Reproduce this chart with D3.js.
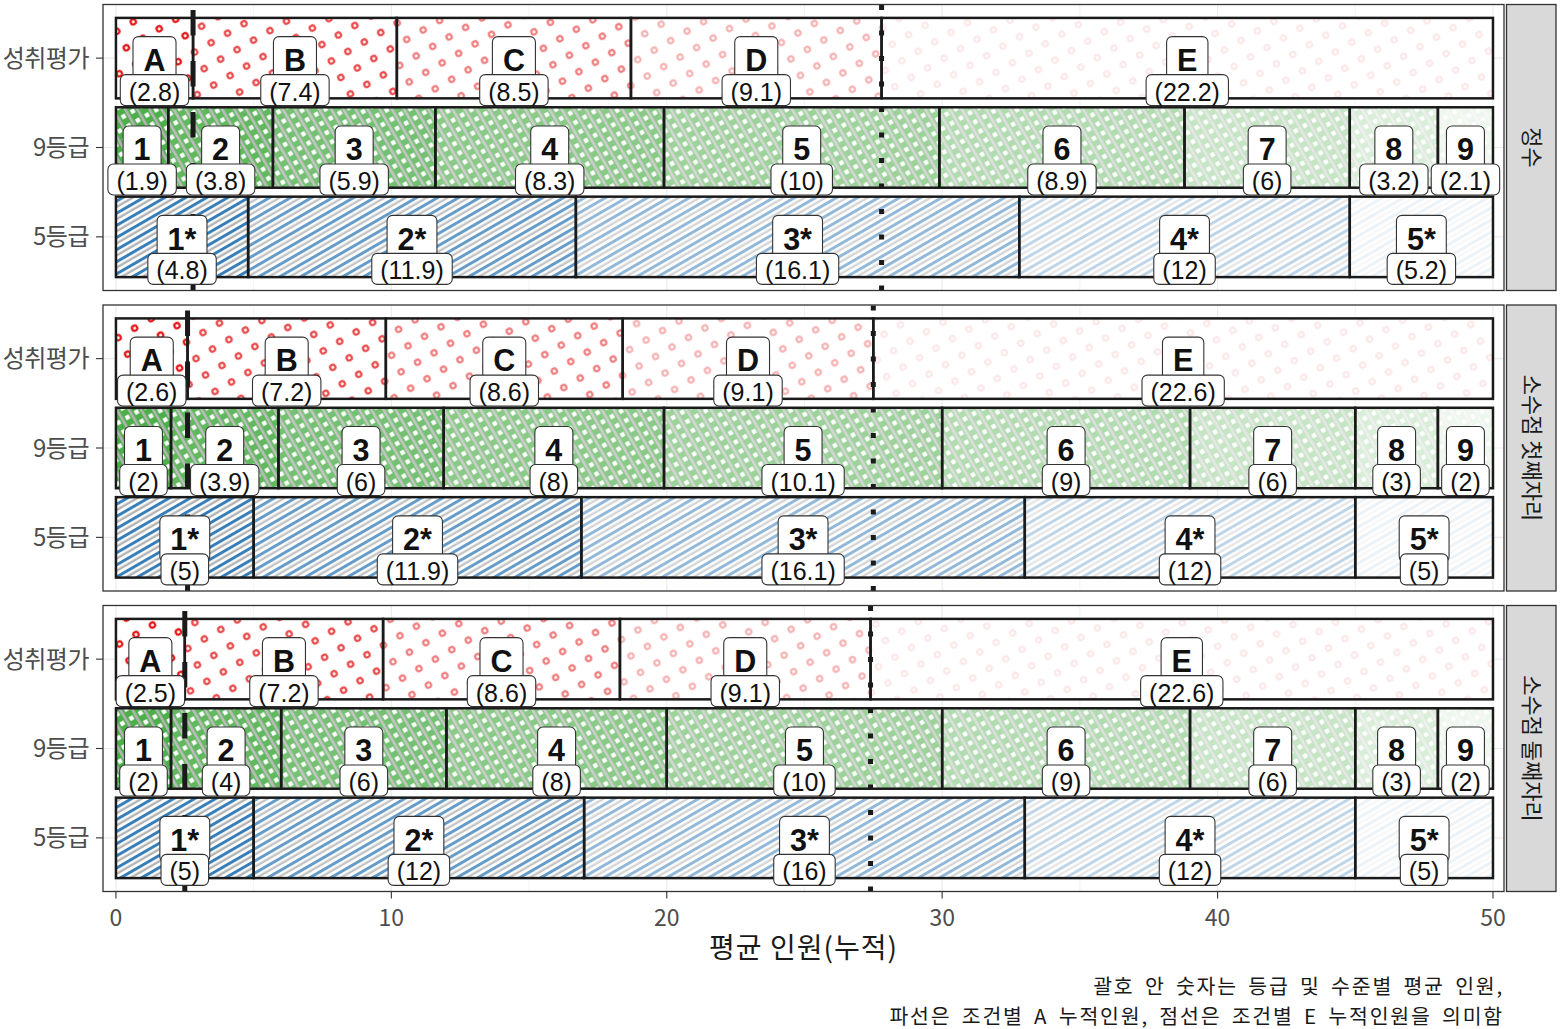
<!DOCTYPE html>
<html><head><meta charset="utf-8">
<script src="https://cdn.jsdelivr.net/npm/d3@7"></script>
<style>body{margin:0;background:#fff}</style>
</head><body><svg id="c" width="1562" height="1029" xmlns="http://www.w3.org/2000/svg"></svg>
<script>
// ---------------- data ----------------
const panels = ["정수", "소수점 첫째자리", "소수점 둘째자리"];
const rows = ["성취평가", "9등급", "5등급"];
const achLevels = ["A", "B", "C", "D", "E"];
const g9Levels = ["1", "2", "3", "4", "5", "6", "7", "8", "9"];
const g5Levels = ["1*", "2*", "3*", "4*", "5*"];
// 정수
const achInt = [2.8, 7.4, 8.5, 9.1, 22.2];
const g9Int  = [1.9, 3.8, 5.9, 8.3, 10, 8.9, 6, 3.2, 2.1];
const g5Int  = [4.8, 11.9, 16.1, 12, 5.2];
// 소수점 첫째자리
const achD1 = [2.6, 7.2, 8.6, 9.1, 22.6];
const g9D1  = [2, 3.9, 6, 8, 10.1, 9, 6, 3, 2];
const g5D1  = [5, 11.9, 16.1, 12, 5];
// 소수점 둘째자리
const achD2 = [2.5, 7.2, 8.6, 9.1, 22.6];
const g9D2  = [2, 4, 6, 8, 10, 9, 6, 3, 2];
const g5D2  = [5, 12, 16, 12, 5];
const xTicks = [0, 10, 20, 30, 40, 50];
const xMinor = [5, 15, 25, 35, 45];
const xTitle = "평균 인원(누적)";
const captionLines = ["괄호 안 숫자는 등급 및 수준별 평균 인원,", "파선은 조건별 A 누적인원, 점선은 조건별 E 누적인원을 의미함"];

const panelData = [
  {name: panels[0], rows: [achInt, g9Int, g5Int]},
  {name: panels[1], rows: [achD1, g9D1, g5D1]},
  {name: panels[2], rows: [achD2, g9D2, g5D2]}
];
const rowLevels = [achLevels, g9Levels, g5Levels];
const rowPattern = ["pat-circle", "pat-cross", "pat-stripe"];

// ---------------- layout ----------------
const svg = d3.select("#c");
const plotL = 103, plotR = 1504;
const panelTops = [4.5, 305, 605.5];
const panelH = 286;
const stripL = 1506.5, stripW = 49.5;
const x = d3.scaleLinear().domain([-0.47, 50.4]).range([plotL, plotR]);
const SANS = "'Liberation Sans', Arial, sans-serif";
const KR = "'Noto Sans CJK KR', 'Noto Sans', sans-serif";
// alpha scale by level order (darkest first), like scale_alpha range(0.1, 1)
const alphaOf = d => 1 - 0.9 * d.i / (d.n - 1);

// ---------------- patterns ----------------
const defs = svg.append("defs");
const RED = "#E41A1C", GREEN = "#4DAF4A", BLUE = "#377EB8", GREY = "#b3b3b3";
{
  const p = defs.append("pattern").attr("id", "pat-circle").attr("patternUnits", "userSpaceOnUse")
    .attr("width", 19).attr("height", 19).attr("patternTransform", "rotate(-30)");
  p.append("circle").attr("cx", 9.5).attr("cy", 9.5).attr("r", 3.8).attr("fill", RED);
  p.append("circle").attr("cx", 9.5).attr("cy", 9.5).attr("r", 1.5).attr("fill", "#fff");
}
{
  const s = 10.5;
  const p = defs.append("pattern").attr("id", "pat-cross").attr("patternUnits", "userSpaceOnUse")
    .attr("width", s).attr("height", s).attr("patternTransform", "rotate(-30)");
  p.append("rect").attr("x", 0).attr("y", 0).attr("width", s).attr("height", s).attr("fill", GREEN);
  p.append("rect").attr("x", 0).attr("y", 0).attr("width", 2.6).attr("height", s).attr("fill", GREY);
  p.append("rect").attr("x", 4.6).attr("y", 3.0).attr("width", 4.4).attr("height", 4.4).attr("fill", "#fff");
}
{
  const s = 10.5;
  const p = defs.append("pattern").attr("id", "pat-stripe").attr("patternUnits", "userSpaceOnUse")
    .attr("width", s).attr("height", s).attr("patternTransform", "rotate(-30)");
  p.append("rect").attr("x", 0).attr("y", 0).attr("width", s).attr("height", 3).attr("fill", BLUE);
  p.append("rect").attr("x", 0).attr("y", 5.3).attr("width", s).attr("height", 2.4).attr("fill", GREY);
}

// ---------------- panels ----------------
panelData.forEach((pd, pi) => {
  const top = panelTops[pi], bot = top + panelH;
  const y = d3.scalePoint().domain(rows).range([top, bot]).padding(0.6);
  const bh = y.step() * 0.9;
  const g = svg.append("g");

  // background + grid
  g.append("rect").attr("x", plotL).attr("y", top).attr("width", plotR - plotL).attr("height", panelH).attr("fill", "#fff");
  g.selectAll(".gmin").data(xMinor).join("line")
    .attr("x1", d => x(d)).attr("x2", d => x(d)).attr("y1", top).attr("y2", bot)
    .attr("stroke", "#ebebeb").attr("stroke-width", 0.6);
  g.selectAll(".gmaj").data(xTicks).join("line")
    .attr("x1", d => x(d)).attr("x2", d => x(d)).attr("y1", top).attr("y2", bot)
    .attr("stroke", "#ebebeb").attr("stroke-width", 1.1);
  g.selectAll(".gy").data(rows).join("line")
    .attr("x1", plotL).attr("x2", plotR).attr("y1", d => y(d)).attr("y2", d => y(d))
    .attr("stroke", "#ebebeb").attr("stroke-width", 1.1);

  // segments
  const segs = [];
  pd.rows.forEach((vals, ri) => {
    let cum = 0;
    const n = vals.length;
    vals.forEach((v, i) => {
      segs.push({row: rows[ri], ri, i, n, v, x0: cum, x1: Math.min(cum + v, 50), level: rowLevels[ri][i]});
      cum += v;
    });
  });
  const bars = g.append("g");
  bars.selectAll(".bw").data(segs).join("rect")
    .attr("x", d => x(d.x0)).attr("width", d => x(d.x1) - x(d.x0))
    .attr("y", d => y(d.row) - bh / 2).attr("height", bh).attr("fill", "#fff");
  bars.selectAll(".bp").data(segs).join("rect")
    .attr("x", d => x(d.x0)).attr("width", d => x(d.x1) - x(d.x0))
    .attr("y", d => y(d.row) - bh / 2).attr("height", bh)
    .attr("fill", d => `url(#${rowPattern[d.ri]})`)
    .attr("opacity", alphaOf);
  bars.selectAll(".bs").data(segs).join("rect")
    .attr("x", d => x(d.x0)).attr("width", d => x(d.x1) - x(d.x0))
    .attr("y", d => y(d.row) - bh / 2).attr("height", bh)
    .attr("fill", "none").attr("stroke", "#1a1a1a").attr("stroke-width", 2.5);

  // reference lines: A cumulative (dashed), start of E (dotted)
  const ach = pd.rows[0];
  const aCum = ach[0];
  const eStart = d3.sum(ach.slice(0, 4));
  g.append("line").attr("x1", x(aCum)).attr("x2", x(aCum)).attr("y1", bot).attr("y2", top)
    .attr("stroke", "#1a1a1a").attr("stroke-width", 5).attr("stroke-dasharray", "25.5 25.5");
  g.append("line").attr("x1", x(eStart)).attr("x2", x(eStart)).attr("y1", bot).attr("y2", top)
    .attr("stroke", "#1a1a1a").attr("stroke-width", 5).attr("stroke-dasharray", "5 20.5");

  // labels: letters
  const fmt = v => "(" + (+v.toFixed(1)).toString() + ")";
  const letterG = g.append("g");
  segs.forEach(d => {
    const cx = x((d.x0 + d.x1) / 2), cy = y(d.row);
    const grp = letterG.append("g");
    const r = grp.append("rect");
    const t = grp.append("text").attr("x", cx).attr("y", cy + 12.7).attr("text-anchor", "middle")
      .attr("font-family", SANS).attr("font-weight", "bold").attr("font-size", 30.5).attr("fill", "#111").text(d.level);
    const w = t.node().getComputedTextLength() + 21;
    r.attr("x", cx - w / 2).attr("y", cy - 21.5).attr("width", w).attr("height", 46).attr("rx", 5.5)
      .attr("fill", "#fff").attr("stroke", "#333").attr("stroke-width", 1.1);
  });
  const valG = g.append("g");
  segs.forEach(d => {
    const cx = x((d.x0 + d.x1) / 2), cy = y(d.row);
    const grp = valG.append("g");
    const r = grp.append("rect");
    const t = grp.append("text").attr("x", cx).attr("y", cy + 42.5).attr("text-anchor", "middle")
      .attr("font-family", SANS).attr("font-size", 25).attr("fill", "#111").text(fmt(d.v));
    const w = t.node().getComputedTextLength() + 17;
    r.attr("x", cx - w / 2).attr("y", cy + 16.5).attr("width", w).attr("height", 31).attr("rx", 5.5)
      .attr("fill", "#fff").attr("stroke", "#333").attr("stroke-width", 1.1);
  });

  // panel border
  g.append("rect").attr("x", plotL).attr("y", top).attr("width", plotR - plotL).attr("height", panelH)
    .attr("fill", "none").attr("stroke", "#333").attr("stroke-width", 1.3);

  // y axis
  g.selectAll(".yt").data(rows).join("line")
    .attr("x1", plotL - 7).attr("x2", plotL).attr("y1", d => y(d)).attr("y2", d => y(d))
    .attr("stroke", "#333").attr("stroke-width", 1.1);
  g.selectAll(".yl").data(rows).join("text")
    .attr("x", plotL - 14).attr("y", d => y(d) + 8.5).attr("text-anchor", "end")
    .attr("font-family", KR).attr("font-size", 24).attr("letter-spacing", -0.5).attr("fill", "#4d4d4d").text(d => d);

  // strip
  g.append("rect").attr("x", stripL).attr("y", top).attr("width", stripW).attr("height", panelH)
    .attr("fill", "#d9d9d9").attr("stroke", "#333").attr("stroke-width", 1.3);
  const sx = stripL + stripW / 2, sy = top + panelH / 2;
  g.append("text").attr("transform", `translate(${sx},${sy}) rotate(90)`)
    .attr("text-anchor", "middle").attr("dy", "0.35em")
    .attr("font-family", KR).attr("font-size", 22).attr("fill", "#1a1a1a").text(pd.name);
});

// ---------------- x axis ----------------
const axisY = panelTops[2] + panelH;
const ax = svg.append("g");
ax.selectAll("line").data(xTicks).join("line")
  .attr("x1", d => x(d)).attr("x2", d => x(d)).attr("y1", axisY).attr("y2", axisY + 7)
  .attr("stroke", "#333").attr("stroke-width", 1.1);
ax.selectAll("text").data(xTicks).join("text")
  .attr("x", d => x(d)).attr("y", axisY + 34).attr("text-anchor", "middle")
  .attr("font-family", KR).attr("font-size", 23).attr("fill", "#4d4d4d").text(d => d);

svg.append("text").attr("x", (plotL + plotR) / 2).attr("y", 958).attr("text-anchor", "middle")
  .attr("font-family", KR).attr("font-size", 28).attr("letter-spacing", 1).attr("fill", "#1a1a1a").text(xTitle);

// caption (two lines, right-aligned)
svg.selectAll(".cap").data(captionLines).join("text")
  .attr("x", plotR).attr("y", (d, i) => 994 + i * 30).attr("text-anchor", "end")
  .attr("font-family", KR).attr("font-size", 20.5).attr("letter-spacing", 1.8).attr("word-spacing", 4)
  .attr("fill", "#1a1a1a").text(d => d);
</script>
</body></html>
